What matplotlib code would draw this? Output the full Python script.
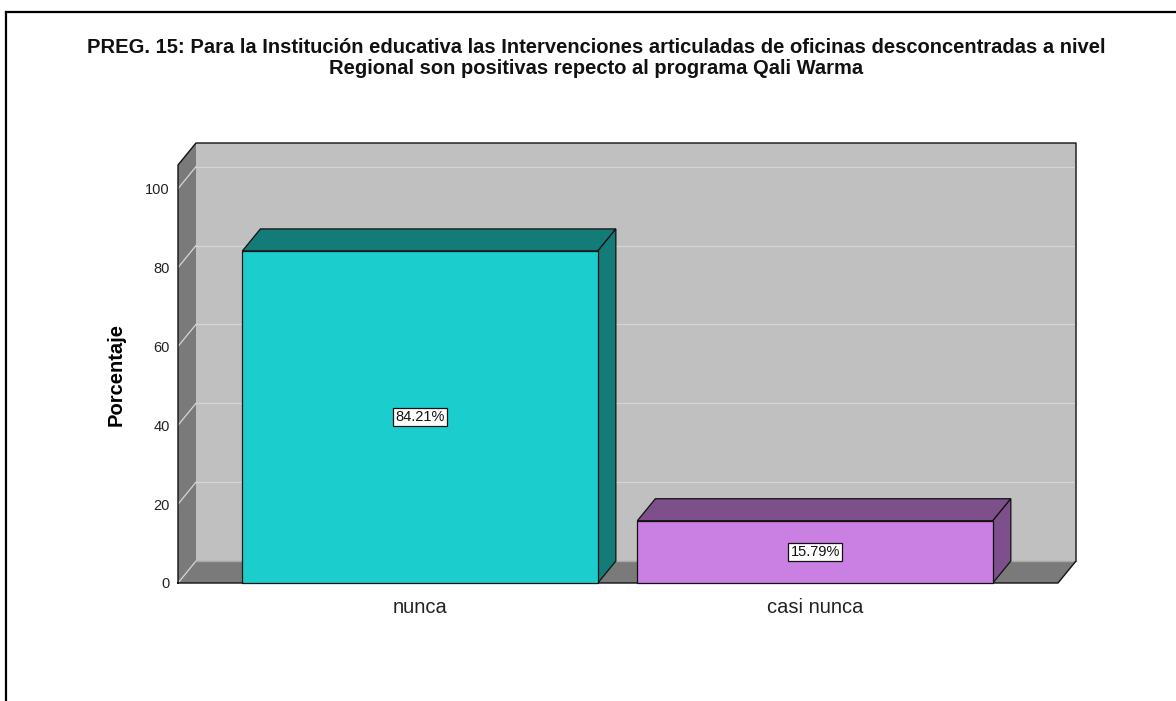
import matplotlib.pyplot as plt
import matplotlib.patches as mpatches
from matplotlib.lines import Line2D
import numpy as np

# --- Data ---
categories = ['nunca', 'casi nunca']
percentages = [84.21, 15.79]
value_labels = ['84.21%', '15.79%']
yticks = [0, 20, 40, 60, 80, 100]
title = ('PREG. 15: Para la Institución educativa las Intervenciones articuladas de oficinas desconcentradas a nivel\n'
         'Regional son positivas repecto al programa Qali Warma')

FRONT_COLORS = ['#1ccdcd', '#ca7fe2']
DARK_COLORS = ['#137b78', '#7d4f8b']
WALL = '#c0c0c0'
SIDE = '#7a7a7a'
GRID = '#d6d6d6'

plt.rcParams['font.family'] = ['Liberation Sans', 'DejaVu Sans']

W, H = 1176, 701
fig = plt.figure(figsize=(W / 100, H / 100), dpi=100)
fig.patch.set_facecolor('white')

left, right, bottom, top = 178, 1058, 583, 165
ax = fig.add_axes([left / W, 1 - bottom / H, (right - left) / W, (bottom - top) / H])
ax.set_facecolor('none')
for s in ax.spines.values():
    s.set_visible(False)

x = np.arange(len(categories))
width = 0.9
ax.set_xlim(-0.613, 1.615)
ax.set_ylim(0, 106)
x0, x1 = ax.get_xlim()
ytop = ax.get_ylim()[1]

# depth offset (18 px right, 22 px up) expressed in data units
px_x = (right - left) / (x1 - x0)
px_y = (bottom - top) / ytop
DX, DY = 18 / px_x, 22 / px_y

def poly(pts, fc, ec='none', lw=0, z=1):
    p = mpatches.Polygon(pts, closed=True, facecolor=fc, edgecolor=ec,
                         linewidth=lw, clip_on=False, zorder=z)
    ax.add_patch(p)

# back wall, side wall, floor
poly([(x0 + DX, DY), (x1 + DX, DY), (x1 + DX, ytop + DY), (x0 + DX, ytop + DY)], WALL, z=1)
poly([(x0, 0), (x0 + DX, DY), (x0 + DX, ytop + DY), (x0, ytop)], SIDE, z=1)
poly([(x0, 0), (x1, 0), (x1 + DX, DY), (x0 + DX, DY)], SIDE, z=1)

# grid lines on back wall and side wall
for v in yticks[1:]:
    ax.plot([x0 + DX, x1 + DX], [v + DY, v + DY], color=GRID, lw=0.9, zorder=2, clip_on=False)
    ax.plot([x0, x0 + DX], [v, v + DY], color=GRID, lw=0.9, zorder=2, clip_on=False)
ax.plot([x0, x0 + DX], [0, DY], color=GRID, lw=0.9, zorder=2, clip_on=False)
ax.plot([x0 + DX, x1 + DX], [DY, DY], color='#a8a8a8', lw=1.0, zorder=2, clip_on=False)

# outline of the box
ax.plot([x0, x1, x1 + DX, x1 + DX, x0 + DX, x0, x0],
        [0, 0, DY, ytop + DY, ytop + DY, ytop, 0],
        color='#111111', lw=1.0, zorder=3, clip_on=False)

# bars
for xi, v, fc, dc, lab in zip(x, percentages, FRONT_COLORS, DARK_COLORS, value_labels):
    a, b = xi - width / 2, xi + width / 2
    poly([(a, v), (b, v), (b + DX, v + DY), (a + DX, v + DY)], dc, '#111111', 0.9, z=4)
    poly([(b, 0), (b + DX, DY), (b + DX, v + DY), (b, v)], dc, '#111111', 0.9, z=4)
    ax.add_patch(mpatches.Rectangle((a, 0), width, v, facecolor=fc, edgecolor='#111111',
                                    linewidth=0.9, zorder=5, clip_on=False))
    ax.text(xi, v / 2, lab, ha='center', va='center', fontsize=10.5, color='#111111', zorder=6,
            bbox=dict(boxstyle='square,pad=0.15', facecolor='white', edgecolor='#111111', linewidth=0.9))

# --- Axes ---
ax.set_yticks(yticks)
ax.set_yticklabels([str(t) for t in yticks], fontsize=10.5, color='#222222')
ax.set_xticks(x)
ax.set_xticklabels(categories, fontsize=14.5, color='#222222')
ax.tick_params(axis='y', length=0, pad=6)
ax.tick_params(axis='x', length=0, pad=11)
ax.set_ylabel('Porcentaje', fontsize=14.5, fontweight='bold')
ax.yaxis.set_label_coords(-0.059, 0.5)

# --- Title ---
fig.text(0.507, 1 - 38 / H, title, ha='center', va='top', fontsize=14.5,
         fontweight='bold', linespacing=1.1, color='#111111')

# --- Outer frame (only left and top visible) ---
fx, fy = 6 / W, 1 - 12 / H
fig.add_artist(Line2D([fx, fx], [0, fy], color='black', lw=1.6))
fig.add_artist(Line2D([fx, 1], [fy, fy], color='black', lw=1.6))

plt.savefig('out.png', dpi=100)
